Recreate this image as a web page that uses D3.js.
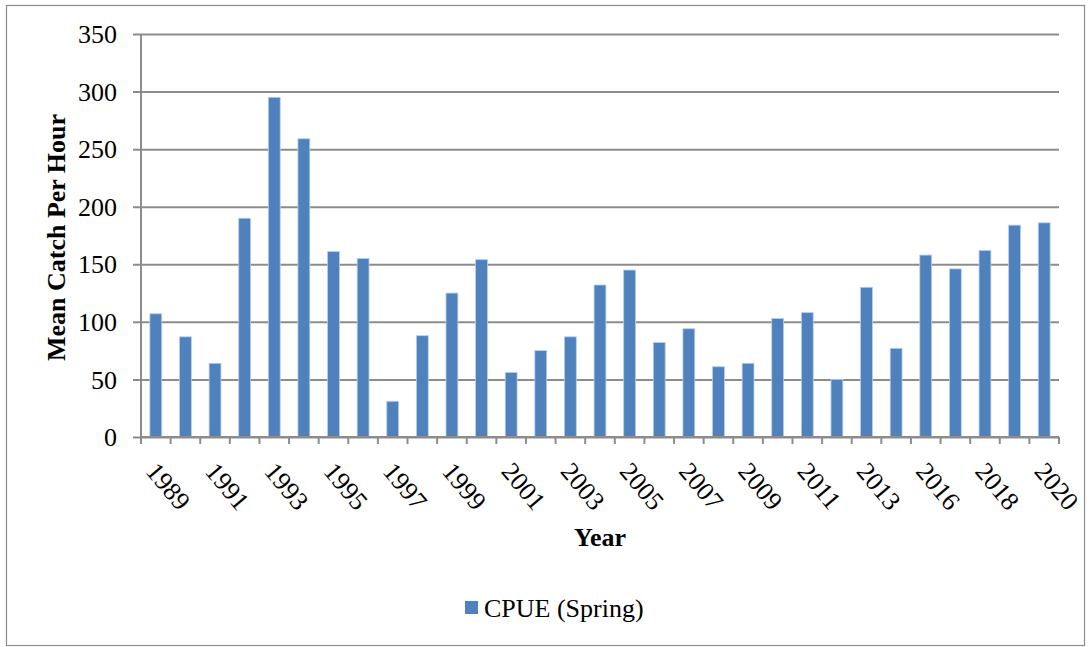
<!DOCTYPE html>
<html>
<head>
<meta charset="utf-8">
<script src="https://cdn.jsdelivr.net/npm/d3@7"></script>
<style>
  body { margin: 0; background: #fff; }
  svg text { font-family: "Liberation Serif", "Times New Roman", serif; }
</style>
</head>
<body>
<svg id="chart"></svg>
<script>
// years on the category axis (one year between 2013 and 2016 is missing)
const years = ["1989","1990","1991","1992","1993","1994","1995","1996","1997","1998",
  "1999","2000","2001","2002","2003","2004","2005","2006","2007","2008",
  "2009","2010","2011","2012","2013","2015","2016","2017","2018","2019","2020"]
// mean catch per hour, spring survey
const cpue = [107, 87, 64, 190, 295, 259, 161, 155, 31, 88,
  125, 154, 56, 75, 87, 132, 145, 82, 94, 61,
  64, 103, 108, 50, 130, 77, 158, 146, 162, 184, 186]
const yTicks = [0, 50, 100, 150, 200, 250, 300, 350]

const width = 1090
const height = 647
const margin = {top: 34, right: 31, bottom: 210, left: 141}
const barColor = "#4f81bd"
const gridColor = "#8c8c8c"
const fontSize = 26

const svg = d3.select("#chart")
    .attr("width", width)
    .attr("height", height)

// outer chart frame
svg.append("rect")
  .attr("x", 6.5).attr("y", 5.5)
  .attr("width", 1078).attr("height", 640)
  .attr("fill", "none")
  .attr("stroke", gridColor)
  .attr("stroke-width", 1.2)

const x = d3.scaleBand()
  .domain(years)
  .range([margin.left, width - margin.right])
  .paddingInner(0.6)
  .paddingOuter(0.3)

// band edges for tick marks (Excel puts ticks between categories)
const step = (width - margin.right - margin.left) / years.length

const y = d3.scaleLinear()
  .domain([0, 350])
  .range([height - margin.bottom, margin.top])

// horizontal gridlines + y axis
const yAxis = svg.append("g")
  .attr("transform", `translate(${margin.left},0)`)
  .call(d3.axisLeft(y).tickValues(yTicks).tickSize(-(width - margin.right - margin.left)).tickPadding(24))

yAxis.select(".domain").remove()
yAxis.selectAll(".tick line")
  .attr("x1", -8)
  .attr("stroke", gridColor)
  .attr("stroke-width", 2)
yAxis.selectAll(".tick text")
  .attr("font-size", fontSize)
  .attr("fill", "#000")
  .attr("dy", "0.33em")

// vertical axis line
svg.append("line")
  .attr("x1", margin.left).attr("x2", margin.left)
  .attr("y1", y(350)).attr("y2", y(0) + 7)
  .attr("stroke", gridColor).attr("stroke-width", 2)

// bars
svg.append("g")
  .selectAll("rect")
  .data(cpue)
  .join("rect")
  .attr("x", (d, i) => x(years[i]))
  .attr("y", d => y(d))
  .attr("width", x.bandwidth())
  .attr("height", d => y(0) - y(d))
  .attr("fill", barColor)
  .attr("stroke", "#b9cde5")
  .attr("stroke-width", 0.8)

// x axis baseline and tick marks
svg.append("line")
  .attr("x1", margin.left).attr("x2", width - margin.right)
  .attr("y1", y(0)).attr("y2", y(0))
  .attr("stroke", gridColor).attr("stroke-width", 2)

svg.append("g")
  .selectAll("line")
  .data(d3.range(years.length + 1))
  .join("line")
  .attr("x1", i => margin.left + i * step)
  .attr("x2", i => margin.left + i * step)
  .attr("y1", y(0))
  .attr("y2", y(0) + 7)
  .attr("stroke", gridColor)
  .attr("stroke-width", 2)

// every other year is labelled, rotated down to the right
svg.append("g")
  .selectAll("text")
  .data(years.filter((d, i) => i % 2 === 0))
  .join("text")
  .attr("transform", d => `translate(${x(d) + x.bandwidth() / 2 - 11},${y(0) + 35}) rotate(50)`)
  .attr("font-size", fontSize)
  .attr("fill", "#000")
  .text(d => d)

// axis titles
svg.append("text")
  .attr("transform", `translate(65,${(y(0) + y(350)) / 2 + 2}) rotate(-90)`)
  .attr("text-anchor", "middle")
  .attr("font-size", fontSize)
  .attr("font-weight", "bold")
  .text("Mean Catch Per Hour")

svg.append("text")
  .attr("x", 600)
  .attr("y", 546)
  .attr("text-anchor", "middle")
  .attr("font-size", fontSize)
  .attr("font-weight", "bold")
  .text("Year")

// legend
const legend = svg.append("g").attr("transform", "translate(465,601)")
legend.append("rect")
  .attr("width", 13).attr("height", 13)
  .attr("fill", barColor)
legend.append("text")
  .attr("x", 19).attr("y", 16)
  .attr("font-size", fontSize)
  .text("CPUE (Spring)")
</script>
</body>
</html>
